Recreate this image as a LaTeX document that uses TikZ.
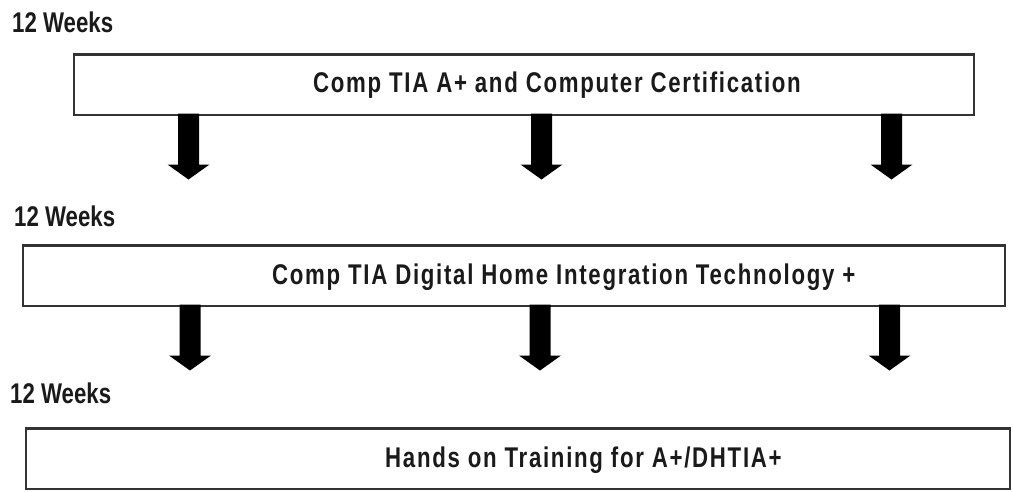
\documentclass[tikz,border=0pt]{standalone}
\usepackage{fontspec}
\setmainfont{Liberation Sans}[FakeStretch=0.78]
\newfontfamily\boxfont{Liberation Sans}[FakeStretch=0.78,LetterSpace=6]
\definecolor{boxline}{HTML}{333333}
\definecolor{txt}{HTML}{1A1A1A}
\begin{document}
\begin{tikzpicture}[x=1pt,y=-1pt,
  course/.style={draw=boxline,line width=2.5pt,fill=white,inner sep=0pt},
  weeks/.style={anchor=base west,inner sep=0pt,font=\fontsize{28.5}{31}\selectfont\bfseries,text=txt},
  boxtext/.style={anchor=base west,inner sep=0pt,font=\fontsize{28.5}{31}\selectfont\boxfont\bfseries,text=txt},
  blockarrow/.style={fill=black}]
\useasboundingbox (0,0) rectangle (1013,491);
% boxes
\node[course,minimum width=900,minimum height=60.5] (b1) at (524,84.5) {};
\node[course,minimum width=982,minimum height=60.5] (b2) at (514,275.5) {};
\node[course,minimum width=984,minimum height=60.5] (b3) at (518,458.5) {};
% labels
\node[weeks] (w1) at (12,32) {12 Weeks};
\node[weeks] (w2) at (14,226) {12 Weeks};
\node[weeks] (w3) at (10,403) {12 Weeks};
\node[boxtext] (t1) at (313,92) {Comp TIA A+ and Computer Certification};
\node[boxtext] (t2) at (272,284) {Comp TIA Digital Home Integration Technology +};
\node[boxtext] (t3) at (385,467) {Hands on Training for A+/DHTIA+};
% arrows
\newcommand\blockarr[1]{\fill[blockarrow] (#1) ++(-10.5,0) -- ++(21,0) -- ++(0,51) -- ++(10.5,0) -- ++(-21,15) -- ++(-21,-15) -- ++(10.5,0) -- cycle;}
\coordinate (a11) at (188.5,113.5);
\coordinate (a12) at (541.5,113.5);
\coordinate (a13) at (891.5,113.5);
\coordinate (a21) at (190,304.5);
\coordinate (a22) at (540,304.5);
\coordinate (a23) at (889.5,304.5);
\blockarr{a11}\blockarr{a12}\blockarr{a13}
\blockarr{a21}\blockarr{a22}\blockarr{a23}
\end{tikzpicture}
\end{document}
